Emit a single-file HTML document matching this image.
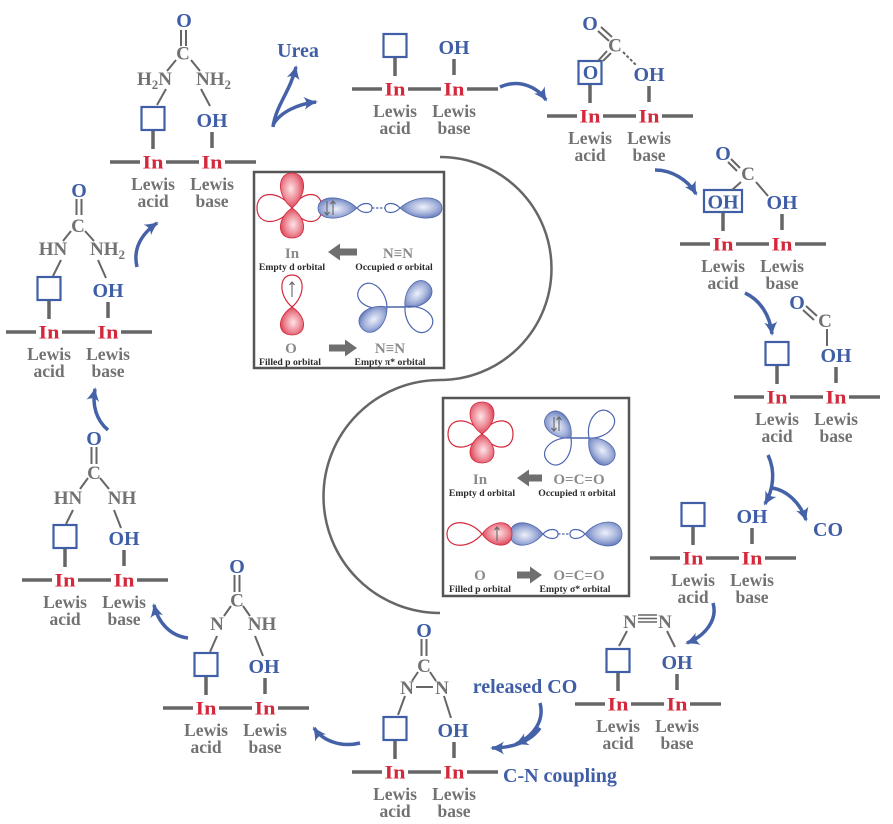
<!DOCTYPE html>
<html><head><meta charset="utf-8"><style>
html,body{margin:0;padding:0;background:#fff}
svg{display:block}
.in{font:bold 19px "Liberation Serif",serif;fill:#d4293c;text-anchor:middle}
.lw{font:bold 17.5px "Liberation Serif",serif;fill:#727272;text-anchor:middle}
.bl{font:bold 20px "Liberation Serif",serif;fill:#3f5ea6;text-anchor:middle}
.gr{font:bold 19px "Liberation Serif",serif;fill:#727272;text-anchor:middle}
.gs{font:bold 19px "Liberation Serif",serif;fill:#727272}
.sm{font:bold 9.7px "Liberation Serif",serif;fill:#2b2b2b;text-anchor:middle}
.ig{font:bold 15px "Liberation Serif","DejaVu Serif",serif;fill:#8a8a8a;text-anchor:middle}
.ln{stroke:#666;stroke-width:3.5;fill:none}
.bd{stroke:#666;stroke-width:2;fill:none}
.sq{fill:none;stroke:#3f5ea6;stroke-width:2.2}
.ar{fill:none;stroke:#4562a8;stroke-width:3.5;marker-end:url(#ah)}
.ro{fill:none;stroke:#d4293c;stroke-width:1.2}
.rf{fill:url(#rg);stroke:#d4293c;stroke-width:0.8}
.bo{fill:none;stroke:#4d66ad;stroke-width:1.2}
.bf{fill:url(#bg);stroke:#4d66ad;stroke-width:0.8}
.ea{stroke:#666;stroke-width:1.1;fill:none}
</style></head><body>
<svg width="893" height="824" viewBox="0 0 893 824" xmlns="http://www.w3.org/2000/svg">
<defs>
<marker id="ah" markerUnits="userSpaceOnUse" markerWidth="16" markerHeight="16" refX="13" refY="8" orient="auto" viewBox="0 0 16 16">
<path d="M1,1.5 Q8,6 15,8 Q8,10 1,14.5 Q5.5,8 1,1.5Z" fill="#4562a8"/>
</marker>
<radialGradient id="rg" cx="0.55" cy="0.45" r="0.65"><stop offset="0" stop-color="#fde4e7"/><stop offset="0.5" stop-color="#ee8d99"/><stop offset="1" stop-color="#d42a40"/></radialGradient>
<radialGradient id="bg" cx="0.55" cy="0.45" r="0.65"><stop offset="0" stop-color="#eef1fa"/><stop offset="0.5" stop-color="#a6b4dc"/><stop offset="1" stop-color="#4d66ad"/></radialGradient>
</defs>
<rect width="893" height="824" fill="#fff"/>

<!-- S curve -->
<path d="M440,157 A111.5,111.5 0 0 1 440,380 A116.5,116.5 0 0 0 440,613" fill="none" stroke="#666" stroke-width="2.5"/>

<!-- Unit A (urea) -->
<g transform="translate(153,162)">
<path class="ln" d="M-43,0H-13M13,0H46M72,0H103M0,-31V-13M59,-30V-14"/>
<text class="in" x="0" y="6.5" textLength="21" lengthAdjust="spacingAndGlyphs">In</text>
<text class="in" x="59" y="6.5" textLength="21" lengthAdjust="spacingAndGlyphs">In</text>
<text class="lw" x="0" y="28">Lewis</text><text class="lw" x="0" y="45">acid</text>
<text class="lw" x="59" y="28">Lewis</text><text class="lw" x="59" y="45">base</text>
<rect class="sq" x="-11.5" y="-55" width="23" height="23"/>
<text class="bl" x="59" y="-35">OH</text>
</g>
<text class="bl" x="184" y="27">O</text>
<path class="bd" d="M181,30V46M186,30V46"/>
<text class="gr" x="183" y="59.5">C</text>
<text class="gs" x="137" y="85">H<tspan font-size="13" dy="4">2</tspan><tspan dy="-4">N</tspan></text>
<text class="gs" x="196" y="85">NH<tspan font-size="13" dy="4">2</tspan></text>
<path class="bd" d="M176,60L167,71M191,60L200,71M166,89L157,105M201,89L210,106"/>

<!-- Urea arrows -->
<text class="bl" x="298" y="57">Urea</text>
<path class="ar" d="M273,127 C276,105 290,92 296,67"/>
<path class="ar" d="M273,125 C280,112 298,104 316,102"/>

<!-- Unit B -->
<g transform="translate(395,89)">
<path class="ln" d="M-43,0H-13M13,0H46M72,0H103M0,-31V-13M59,-30V-14"/>
<text class="in" x="0" y="6.5" textLength="21" lengthAdjust="spacingAndGlyphs">In</text>
<text class="in" x="59" y="6.5" textLength="21" lengthAdjust="spacingAndGlyphs">In</text>
<text class="lw" x="0" y="28">Lewis</text><text class="lw" x="0" y="45">acid</text>
<text class="lw" x="59" y="28">Lewis</text><text class="lw" x="59" y="45">base</text>
<rect class="sq" x="-11.5" y="-55" width="23" height="23"/>
<text class="bl" x="59" y="-35">OH</text>
</g>
<path class="ar" d="M500,87 C520,78 538,88 546,100"/>

<!-- Unit C -->
<g transform="translate(590,116)">
<path class="ln" d="M-43,0H-13M13,0H46M72,0H103M0,-31V-13M59,-30V-14"/>
<text class="in" x="0" y="6.5" textLength="21" lengthAdjust="spacingAndGlyphs">In</text>
<text class="in" x="59" y="6.5" textLength="21" lengthAdjust="spacingAndGlyphs">In</text>
<text class="lw" x="0" y="28">Lewis</text><text class="lw" x="0" y="45">acid</text>
<text class="lw" x="59" y="28">Lewis</text><text class="lw" x="59" y="45">base</text>
<rect class="sq" x="-11.5" y="-55" width="23" height="23"/>
<text class="bl" x="0.5" y="-37">O</text>
<text class="bl" x="59" y="-35">OH</text>
</g>
<text class="bl" x="590" y="30">O</text>
<text class="gr" x="615" y="51.5">C</text>
<path class="bd" d="M601,27L612,37M598,31L609,41M607,51L598,61M611,53L603,61"/>
<path class="bd" d="M623,52L637,66" stroke-dasharray="3,2"/>
<path class="ar" d="M655,170 C672,170 688,180 696,194"/>

<!-- Unit D -->
<g transform="translate(723,244)">
<path class="ln" d="M-43,0H-13M13,0H46M72,0H103M0,-31V-13M59,-30V-14"/>
<text class="in" x="0" y="6.5" textLength="21" lengthAdjust="spacingAndGlyphs">In</text>
<text class="in" x="59" y="6.5" textLength="21" lengthAdjust="spacingAndGlyphs">In</text>
<text class="lw" x="0" y="28">Lewis</text><text class="lw" x="0" y="45">acid</text>
<text class="lw" x="59" y="28">Lewis</text><text class="lw" x="59" y="45">base</text>
<rect class="sq" x="-19" y="-54" width="38" height="22"/>
<text class="bl" x="0" y="-35.5">OH</text>
<text class="bl" x="59" y="-35">OH</text>
</g>
<text class="bl" x="723" y="160">O</text>
<text class="gr" x="748" y="180">C</text>
<path class="bd" d="M731,159L740,168M728,162L737,171M741,182L732,190M756,182L768,196"/>
<path class="ar" d="M745,293 C760,300 770,315 772,334"/>

<!-- Unit E -->
<g transform="translate(777,397)">
<path class="ln" d="M-43,0H-13M13,0H46M72,0H103M0,-31V-13M59,-30V-14"/>
<text class="in" x="0" y="6.5" textLength="21" lengthAdjust="spacingAndGlyphs">In</text>
<text class="in" x="59" y="6.5" textLength="21" lengthAdjust="spacingAndGlyphs">In</text>
<text class="lw" x="0" y="28">Lewis</text><text class="lw" x="0" y="45">acid</text>
<text class="lw" x="59" y="28">Lewis</text><text class="lw" x="59" y="45">base</text>
<rect class="sq" x="-11.5" y="-55" width="23" height="23"/>
<text class="bl" x="59" y="-35">OH</text>
</g>
<text class="bl" x="797" y="309">O</text>
<text class="gr" x="825" y="327">C</text>
<path class="bd" d="M806,306L817,316M803,310L814,320M827,329V346"/>
<path class="ar" d="M768,455 C776,472 773,490 765,504"/>
<path class="ar" d="M772,488 C786,490 800,502 806,520"/>

<!-- Unit F -->
<g transform="translate(693,558)">
<path class="ln" d="M-43,0H-13M13,0H46M72,0H103M0,-31V-13M59,-30V-14"/>
<text class="in" x="0" y="6.5" textLength="21" lengthAdjust="spacingAndGlyphs">In</text>
<text class="in" x="59" y="6.5" textLength="21" lengthAdjust="spacingAndGlyphs">In</text>
<text class="lw" x="0" y="28">Lewis</text><text class="lw" x="0" y="45">acid</text>
<text class="lw" x="59" y="28">Lewis</text><text class="lw" x="59" y="45">base</text>
<rect class="sq" x="-11.5" y="-55" width="23" height="23"/>
<text class="bl" x="59" y="-35">OH</text>
</g>
<text class="bl" x="828" y="536">CO</text>
<path class="ar" d="M713,603 C718,620 705,636 687,643"/>

<!-- Unit G -->
<g transform="translate(618,704)">
<path class="ln" d="M-43,0H-13M13,0H46M72,0H103M0,-31V-13M59,-30V-14"/>
<text class="in" x="0" y="6.5" textLength="21" lengthAdjust="spacingAndGlyphs">In</text>
<text class="in" x="59" y="6.5" textLength="21" lengthAdjust="spacingAndGlyphs">In</text>
<text class="lw" x="0" y="28">Lewis</text><text class="lw" x="0" y="45">acid</text>
<text class="lw" x="59" y="28">Lewis</text><text class="lw" x="59" y="45">base</text>
<rect class="sq" x="-11.5" y="-55" width="23" height="23"/>
<text class="bl" x="59" y="-35">OH</text>
</g>
<text class="gr" x="630" y="628">N</text>
<text class="gr" x="665" y="628">N</text>
<path d="M638,615H657M638,618.5H657M638,622H657" stroke="#666" stroke-width="1.6"/>
<path class="bd" d="M627,631L619,646M667,631L675,647"/>

<!-- Unit H -->
<g transform="translate(395,772)">
<path class="ln" d="M-43,0H-13M13,0H46M72,0H103M0,-31V-13M59,-30V-14"/>
<text class="in" x="0" y="6.5" textLength="21" lengthAdjust="spacingAndGlyphs">In</text>
<text class="in" x="59" y="6.5" textLength="21" lengthAdjust="spacingAndGlyphs">In</text>
<text class="lw" x="0" y="28">Lewis</text><text class="lw" x="0" y="45">acid</text>
<text class="lw" x="59" y="28">Lewis</text><text class="lw" x="59" y="45">base</text>
<rect class="sq" x="-11.5" y="-55" width="23" height="23"/>
<text class="bl" x="58" y="-35">OH</text>
</g>
<text class="bl" x="424" y="637">O</text>
<path class="bd" d="M421.5,639V656M426.5,639V656"/>
<text class="gr" x="424" y="672">C</text>
<text class="gr" x="407" y="694">N</text>
<text class="gr" x="442" y="694">N</text>
<path class="bd" d="M418,672L412,681M430,672L436,681M416,687H433M405,696L398,715M444,696L451,718"/>
<text class="bl" x="525" y="693">released CO</text>
<text class="bl" x="503" y="782" style="text-anchor:start">C-N coupling</text>
<path class="ar" d="M540,703 C545,722 532,737 516,744"/>
<path class="ar" d="M540,728 C530,742 512,748 492,748"/>
<path class="ar" d="M360,743 C340,748 322,740 314,728"/>

<!-- Unit I -->
<g transform="translate(206,708)">
<path class="ln" d="M-43,0H-13M13,0H46M72,0H103M0,-31V-13M59,-30V-14"/>
<text class="in" x="0" y="6.5" textLength="21" lengthAdjust="spacingAndGlyphs">In</text>
<text class="in" x="59" y="6.5" textLength="21" lengthAdjust="spacingAndGlyphs">In</text>
<text class="lw" x="0" y="28">Lewis</text><text class="lw" x="0" y="45">acid</text>
<text class="lw" x="59" y="28">Lewis</text><text class="lw" x="59" y="45">base</text>
<rect class="sq" x="-11.5" y="-55" width="23" height="23"/>
<text class="bl" x="58" y="-35">OH</text>
</g>
<text class="bl" x="237" y="573">O</text>
<path class="bd" d="M234.5,575V592M239.5,575V592"/>
<text class="gr" x="237" y="606.5">C</text>
<text class="gr" x="217" y="630">N</text>
<text class="gr" x="262" y="630">NH</text>
<path class="bd" d="M231,606L224,616M243,606L250,616M217,636L210,652M255,636L263,656"/>
<path class="ar" d="M188,638 C170,636 158,622 154,605"/>

<!-- Unit J -->
<g transform="translate(65,580)">
<path class="ln" d="M-43,0H-13M13,0H46M72,0H103M0,-31V-13M59,-30V-14"/>
<text class="in" x="0" y="6.5" textLength="21" lengthAdjust="spacingAndGlyphs">In</text>
<text class="in" x="59" y="6.5" textLength="21" lengthAdjust="spacingAndGlyphs">In</text>
<text class="lw" x="0" y="28">Lewis</text><text class="lw" x="0" y="45">acid</text>
<text class="lw" x="59" y="28">Lewis</text><text class="lw" x="59" y="45">base</text>
<rect class="sq" x="-11.5" y="-55" width="23" height="23"/>
<text class="bl" x="59" y="-35">OH</text>
</g>
<text class="bl" x="94" y="445">O</text>
<path class="bd" d="M91.5,447V464M96.5,447V464"/>
<text class="gr" x="94" y="479">C</text>
<text class="gr" x="68" y="504">HN</text>
<text class="gr" x="122" y="504">NH</text>
<path class="bd" d="M88,478L80,489M100,478L109,489M73,510L66,524M114,510L121,528"/>
<path class="ar" d="M108,430 C96,420 92,405 95,389"/>

<!-- Unit K -->
<g transform="translate(49,332)">
<path class="ln" d="M-43,0H-13M13,0H46M72,0H103M0,-31V-13M59,-30V-14"/>
<text class="in" x="0" y="6.5" textLength="21" lengthAdjust="spacingAndGlyphs">In</text>
<text class="in" x="59" y="6.5" textLength="21" lengthAdjust="spacingAndGlyphs">In</text>
<text class="lw" x="0" y="28">Lewis</text><text class="lw" x="0" y="45">acid</text>
<text class="lw" x="59" y="28">Lewis</text><text class="lw" x="59" y="45">base</text>
<rect class="sq" x="-11.5" y="-55" width="23" height="23"/>
<text class="bl" x="59" y="-35">OH</text>
</g>
<text class="bl" x="79" y="197">O</text>
<path class="bd" d="M76.5,199V215M81.5,199V215"/>
<text class="gr" x="78" y="232">C</text>
<text class="gr" x="53" y="255">HN</text>
<text class="gs" x="90" y="255">NH<tspan font-size="13" dy="4">2</tspan></text>
<path class="bd" d="M71,231L63,241M85,231L94,241M61,260L53,276M98,260L106,278"/>
<path class="ar" d="M137,267 C133,250 140,235 157,223"/>

<!-- Inset 1 -->
<rect x="254" y="172" width="190" height="196" fill="#fff" stroke="#555" stroke-width="2.5"/>
<g transform="translate(292,208)">
<path class="ro" d="M0,0C12.25,-18 35,-18 35,0C35,18 12.25,18 0,0Z" transform="rotate(180)"/>
<path class="ro" d="M0,0C10.5,-18 30,-18 30,0C30,18 10.5,18 0,0Z"/>
<path class="rf" d="M0,0C12.25,-15.5 35,-15.5 35,0C35,15.5 12.25,15.5 0,0Z" transform="rotate(-90)"/>
<path class="rf" d="M0,0C10.5,-15.5 30,-15.5 30,0C30,15.5 10.5,15.5 0,0Z" transform="rotate(90)"/>
</g>
<path class="bf" d="M0,0C13.65,-13.5 39,-13.5 39,0C39,13.5 13.65,13.5 0,0Z" transform="translate(357,208) rotate(180)"/>
<path class="bo" d="M0,0C5.25,-6 15,-6 15,0C15,6 5.25,6 0,0Z" transform="translate(357,208)"/>
<path d="M372,208H385" stroke="#4d66ad" stroke-width="1.3" stroke-dasharray="2.5,1.5"/>
<path class="bo" d="M0,0C5.25,-6 15,-6 15,0C15,6 5.25,6 0,0Z" transform="translate(400,208) rotate(180)"/>
<path class="bf" d="M0,0C14.7,-13.5 42,-13.5 42,0C42,13.5 14.7,13.5 0,0Z" transform="translate(400,208)"/>
<path class="ea" d="M327,201V215M324.5,212L327,215L329.5,212M333,215V201M330.5,204L333,201L335.5,204"/>
<text class="ig" x="292" y="258">In</text>
<text class="sm" x="292" y="270">Empty d orbital</text>
<polygon points="328,252 340,243.5 340,248.5 357,248.5 357,255.5 340,255.5 340,260.5" fill="#6f6f6f"/>
<text class="ig" x="398" y="258">N≡N</text>
<text class="sm" x="394" y="270">Occupied σ orbital</text>
<g transform="translate(292,307)">
<path class="ro" d="M0,0C11.2,-13.5 32,-13.5 32,0C32,13.5 11.2,13.5 0,0Z" transform="rotate(-90)"/>
<path class="rf" d="M0,0C9.8,-15.5 28,-15.5 28,0C28,15.5 9.8,15.5 0,0Z" transform="rotate(90)"/>
</g>
<path class="ea" d="M292,297V282M289.5,285L292,282L294.5,285"/>
<path d="M387,307H405" stroke="#4d66ad" stroke-width="1.5"/>
<path class="bo" d="M0,0C11.55,-14.85 33,-14.85 33,0C33,14.85 11.55,14.85 0,0Z" transform="translate(387,307) rotate(-145)"/>
<path class="bf" d="M0,0C11.55,-14.85 33,-14.85 33,0C33,14.85 11.55,14.85 0,0Z" transform="translate(387,307) rotate(140)"/>
<path class="bf" d="M0,0C11.55,-14.85 33,-14.85 33,0C33,14.85 11.55,14.85 0,0Z" transform="translate(405,307) rotate(-44)"/>
<path class="bo" d="M0,0C11.55,-14.85 33,-14.85 33,0C33,14.85 11.55,14.85 0,0Z" transform="translate(405,307) rotate(41)"/>
<text class="ig" x="291" y="353">O</text>
<text class="sm" x="290" y="365">Filled p orbital</text>
<polygon points="357,348 345,339.5 345,344.5 329,344.5 329,351.5 345,351.5 345,356.5" fill="#6f6f6f"/>
<text class="ig" x="390" y="353">N≡N</text>
<text class="sm" x="390" y="365">Empty π* orbital</text>

<!-- Inset 2 -->
<rect x="443" y="398" width="186" height="198" fill="#fff" stroke="#555" stroke-width="2.5"/>
<g transform="translate(482,434)">
<path class="ro" d="M0,0C11.9,-17.5 34,-17.5 34,0C34,17.5 11.9,17.5 0,0Z" transform="rotate(180)"/>
<path class="ro" d="M0,0C10.85,-17.5 31,-17.5 31,0C31,17.5 10.85,17.5 0,0Z"/>
<path class="rf" d="M0,0C11.2,-16 32,-16 32,0C32,16 11.2,16 0,0Z" transform="rotate(-90)"/>
<path class="rf" d="M0,0C10.15,-16 29,-16 29,0C29,16 10.15,16 0,0Z" transform="rotate(90)"/>
</g>
<path d="M571,438H589" stroke="#4d66ad" stroke-width="1.5"/>
<path class="bf" d="M0,0C11.55,-14.85 33,-14.85 33,0C33,14.85 11.55,14.85 0,0Z" transform="translate(571,438) rotate(-134)"/>
<path class="bo" d="M0,0C11.55,-14.85 33,-14.85 33,0C33,14.85 11.55,14.85 0,0Z" transform="translate(571,438) rotate(134)"/>
<path class="bo" d="M0,0C11.55,-14.85 33,-14.85 33,0C33,14.85 11.55,14.85 0,0Z" transform="translate(589,438) rotate(-49)"/>
<path class="bf" d="M0,0C11.55,-14.85 33,-14.85 33,0C33,14.85 11.55,14.85 0,0Z" transform="translate(589,438) rotate(47)"/>
<path class="ea" d="M554,417V431M551.5,428L554,431L556.5,428M559,431V417M556.5,420L559,417L561.5,420"/>
<text class="ig" x="480" y="484">In</text>
<text class="sm" x="482" y="496">Empty d orbital</text>
<polygon points="517,478 529,469.5 529,474.5 542,474.5 542,481.5 529,481.5 529,486.5" fill="#6f6f6f"/>
<text class="ig" x="579" y="484">O=C=O</text>
<text class="sm" x="577" y="496">Occupied π orbital</text>
<path class="ro" d="M0,0C12.25,-15 35,-15 35,0C35,15 12.25,15 0,0Z" transform="translate(482,534) rotate(180)"/>
<path class="bf" d="M0,0C11.55,-15 33,-15 33,0C33,15 11.55,15 0,0Z" transform="translate(543,534) rotate(180)"/>
<path class="rf" d="M0,0C10.5,-15 30,-15 30,0C30,15 10.5,15 0,0Z" transform="translate(482,534)"/>
<path class="ea" d="M497,541V527M494.5,530L497,527L499.5,530"/>
<path class="bo" d="M0,0C5.25,-6 15,-6 15,0C15,6 5.25,6 0,0Z" transform="translate(543,534)"/>
<path d="M558,534H570" stroke="#4d66ad" stroke-width="1.3" stroke-dasharray="2.5,1.5"/>
<path class="bo" d="M0,0C5.25,-6 15,-6 15,0C15,6 5.25,6 0,0Z" transform="translate(585,534) rotate(180)"/>
<path class="bf" d="M0,0C12.95,-16 37,-16 37,0C37,16 12.95,16 0,0Z" transform="translate(585,534)"/>
<text class="ig" x="480" y="580">O</text>
<text class="sm" x="480" y="592">Filled p orbital</text>
<polygon points="542,575 530,566.5 530,571.5 517,571.5 517,578.5 530,578.5 530,583.5" fill="#6f6f6f"/>
<text class="ig" x="579" y="580">O=C=O</text>
<text class="sm" x="575" y="592">Empty σ* orbital</text>
</svg>
</body></html>
